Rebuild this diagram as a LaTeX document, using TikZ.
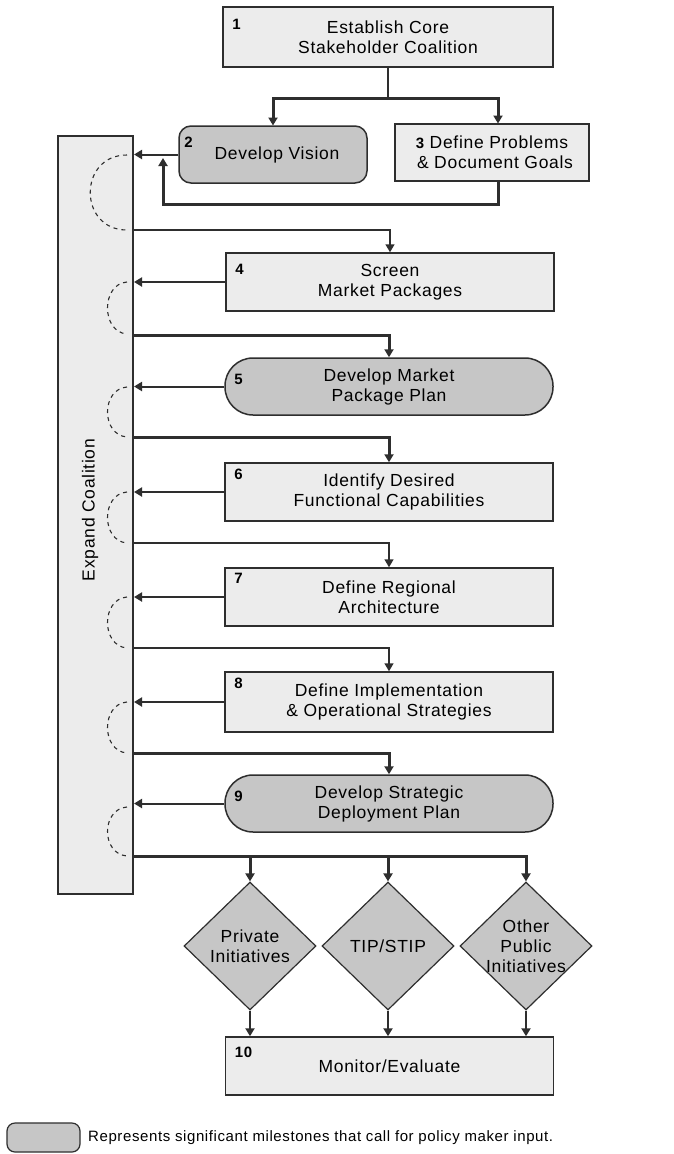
\documentclass[tikz,border=0pt]{standalone}
\usepackage{fontspec}
\setmainfont{Liberation Sans}[LetterSpace=4]
\usetikzlibrary{shapes.geometric,arrows.meta,calc}
\definecolor{linec}{HTML}{2E2E2E}
\definecolor{lightfill}{HTML}{ECECEC}
\definecolor{darkfill}{HTML}{C6C6C6}
\newcommand\bxf{\fontsize{17.5}{20}\selectfont}
\newcommand\numf{\fontsize{15}{17}\selectfont\bfseries}
\begin{document}
\begin{tikzpicture}[x=1pt,y=-1pt,
  tip/.tip={Triangle[length=8pt,width=9pt]},
  lightbox/.style={draw=linec,line width=1.5pt,fill=lightfill,inner sep=0pt,align=center,font=\bxf,minimum width=328pt,minimum height=58pt},
  milebox/.style={lightbox,fill=darkfill,rounded corners=28pt},
  dia/.style={shape=diamond,draw=linec,line width=1.2pt,fill=darkfill,inner sep=0pt,minimum width=132pt,minimum height=128pt},
  numl/.style={anchor=north west,inner sep=0pt,font=\numf},
  lbl/.style={inner sep=0pt,align=center,font=\bxf},
  thickl/.style={draw=linec,line width=3pt},
  thinl/.style={draw=linec,line width=1.6pt},
  arr/.style={draw=linec,line width=2pt,-tip},
  arrk/.style={draw=linec,line width=3pt,-tip},
  arrn/.style={draw=linec,line width=1.6pt,-tip},
  dasharc/.style={draw=linec,line width=1.1pt,dash pattern=on 4pt off 4pt}
]
\useasboundingbox (0,0) rectangle (673,1154);
\fill[white] (0,0) rectangle (673,1154);

% expand coalition bar
\node[draw=linec,line width=2pt,fill=lightfill,minimum width=75pt,minimum height=758pt,inner sep=0pt] (bar) at (95.5,515) {};
\node[lbl,rotate=90] (bartext) at (90,510) {Expand Coalition};

% boxes
\node[lightbox,minimum width=330pt,minimum height=60pt] (b1) at (388,37) {Establish Core\\Stakeholder Coalition};
\node[numl] (n1) at ($(b1.north west)+(10,13)$) {1};

\node[milebox,rounded corners=12pt,minimum width=188pt,minimum height=57pt] (b2) at (273,154.5) {\hspace*{8pt}Develop Vision};
\node[numl] (n2) at ($(b2.north west)+(6,12)$) {2};

\node[lightbox,minimum width=194pt,minimum height=57pt] (b3) at (492,152.5) {{\numf 3} Define Problems\\\hspace*{6pt}\& Document Goals};

\node[lightbox] (b4) at (390,282) {Screen\\Market Packages};
\node[numl] (n4) at ($(b4.north west)+(10,12)$) {4};

\node[milebox,minimum height=57pt] (b5) at (389,386.5) {Develop Market\\Package Plan};
\node[numl] (n5) at ($(b5.north west)+(10,17)$) {5};

\node[lightbox] (b6) at (389,492) {Identify Desired\\Functional Capabilities};
\node[numl] (n6) at ($(b6.north west)+(10,7)$) {6};

\node[lightbox] (b7) at (389,597) {Define Regional\\Architecture};
\node[numl] (n7) at ($(b7.north west)+(10,6)$) {7};

\node[lightbox,minimum height=60pt] (b8) at (389,702) {Define Implementation\\\& Operational Strategies};
\node[numl] (n8) at ($(b8.north west)+(10,7)$) {8};

\node[milebox,minimum height=57pt] (b9) at (389,803.5) {Develop Strategic\\Deployment Plan};
\node[numl] (n9) at ($(b9.north west)+(10,17)$) {9};

\node[dia] (d1) at (250,946) {};
\node[lbl] (t1) at (d1) {Private\\Initiatives};
\node[dia] (d2) at (388,946) {};
\node[lbl] (t2) at (d2) {TIP/STIP};
\node[dia] (d3) at (526,946) {};
\node[lbl] (t3) at (d3) {Other\\Public\\Initiatives};

\node[lightbox] (b10) at (389.5,1066) {\raisebox{-5pt}{Monitor/Evaluate}};
\node[numl] (n10) at ($(b10.north west)+(10,11)$) {10};

% legend
\node[draw=linec,line width=1.2pt,fill=darkfill,rounded corners=8pt,minimum width=73pt,minimum height=29pt,inner sep=0pt] (leg) at (43.5,1137.5) {};
\node[anchor=west,inner sep=0pt,font=\fontsize{15}{18}\selectfont] (legt) at (88,1138) {Represents significant milestones that call for policy maker input.};

% coordinates for levels
\coordinate (j1) at (388,98);
\coordinate (y4) at (0,230);
\coordinate (y5) at (0,335);
\coordinate (y6) at (0,437);
\coordinate (y7) at (0,543);
\coordinate (y8) at (0,648);
\coordinate (y9) at (0,753);
\coordinate (y10) at (0,856);
\coordinate (lp) at (163,158);

% top connectors
\draw[thinl] (b1.south) -- (j1);
\draw[arrk] (j1) -| (273,125.5);
\draw[arrk] (j1) -| (498,123.5);
\draw[arr] (b2.west) -- (b2.west -| bar.east);
\draw[arrk] ($(b3.south)+(6,0)$) |- (163,204) -- (lp);

% row connectors
\draw[arrn] (bar.east |- y4) -| (b4.north);
\draw[arr] (b4.west) -- (b4.west -| bar.east);
\draw[arrk] (bar.east |- y5) -| (b5.north);
\draw[arr] (b5.west) -- (b5.west -| bar.east);
\draw[arrk] (bar.east |- y6) -| (b6.north);
\draw[arr] (b6.west) -- (b6.west -| bar.east);
\draw[arrn] (bar.east |- y7) -| (b7.north);
\draw[arr] (b7.west) -- (b7.west -| bar.east);
\draw[arrn] (bar.east |- y8) -| (b8.north);
\draw[arr] (b8.west) -- (b8.west -| bar.east);
\draw[arrk] (bar.east |- y9) -| (b9.north);
\draw[arr] (b9.west) -- (b9.west -| bar.east);

\draw[thickl] (bar.east |- y10) -- (d3.north |- y10);
\draw[arrk] (bar.east |- y10) -| (d1.north);
\draw[arrk] (bar.east |- y10) -| (d2.north);
\draw[arrk] (bar.east |- y10) -| (d3.north);
\draw[arr] (d1.south) -- (d1.south |- b10.north);
\draw[arr] (d2.south) -- (d2.south |- b10.north);
\draw[arr] (d3.south) -- (d3.south |- b10.north);

% dashed arcs
\draw[dasharc] (127,155) .. controls (78,155) and (78,230) .. (127,230);
\draw[dasharc] (127,282) .. controls (101,284) and (101,332) .. (127,334);
\draw[dasharc] (127,387) .. controls (101,389) and (101,435) .. (127,437);
\draw[dasharc] (127,492) .. controls (101,494) and (101,541) .. (127,543);
\draw[dasharc] (127,597) .. controls (101,599) and (101,646) .. (127,648);
\draw[dasharc] (127,702) .. controls (101,704) and (101,751) .. (127,753);
\draw[dasharc] (127,807) .. controls (101,809) and (101,854) .. (127,856);
\end{tikzpicture}
\end{document}
